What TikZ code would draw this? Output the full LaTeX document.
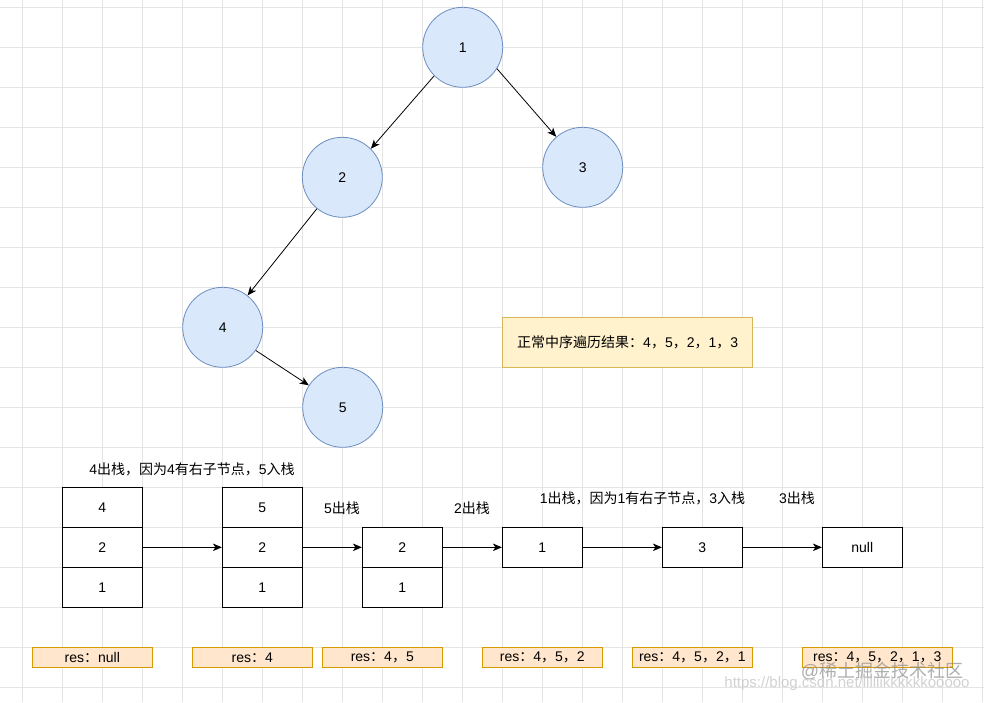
\documentclass[tikz,border=0pt]{standalone}
\usepackage{fontspec}
\setmainfont{Liberation Sans}
\newfontfamily\cjk{Noto Sans CJK SC}
\usetikzlibrary{arrows.meta}
\newcommand\zh[1]{{\cjk #1}}
\definecolor{gridc}{HTML}{E4E4E4}
\definecolor{cfill}{HTML}{DAE8FC}
\definecolor{cdraw}{HTML}{6C8EBF}
\definecolor{yfill}{HTML}{FFF2CC}
\definecolor{ydraw}{HTML}{D6B656}
\definecolor{ofill}{HTML}{FFE6CC}
\definecolor{odraw}{HTML}{D79B00}
\tikzset{
  treenode/.style={circle, draw=cdraw, fill=cfill, line width=0.8pt, minimum size=80pt, inner sep=0pt, font=\fontsize{14}{16}\selectfont},
  cell/.style={rectangle, draw=black, fill=white, line width=0.8pt, minimum width=80pt, minimum height=40pt, inner sep=0pt, font=\fontsize{14}{16}\selectfont},
  resbox/.style={rectangle, draw=odraw, fill=ofill, line width=0.8pt, minimum width=120pt, minimum height=20pt, inner sep=0pt, font=\fontsize{14}{16}\selectfont},
  notebox/.style={rectangle, draw=ydraw, fill=yfill, line width=0.8pt, minimum width=250pt, minimum height=50pt, inner sep=0pt, font=\fontsize{14}{16}\selectfont},
  lbl/.style={inner sep=0pt, font=\fontsize{14}{16}\selectfont},
  link/.style={draw=black, line width=0.8pt, -{Stealth[length=9pt,width=7.5pt,inset=2.5pt]}},
  gridline/.style={draw=gridc, line width=0.8pt}
}
\begin{document}
\begin{tikzpicture}[x=1pt, y=-1pt]
\useasboundingbox (0,0) rectangle (984,702);
\fill[white] (0,0) rectangle (984,702);
\foreach \i in {0,...,24} \draw[gridline] (22.5+40*\i,0) -- (22.5+40*\i,702);
\foreach \j in {0,...,17} \draw[gridline] (0,7.3+40*\j) -- (984,7.3+40*\j);

% tree
\node[treenode] (n1) at (462.7,47.3) {1};
\node[treenode] (n2) at (342.3,177.3) {2};
\node[treenode] (n3) at (582.7,167.3) {3};
\node[treenode] (n4) at (222.7,327.3) {4};
\node[treenode] (n5) at (342.7,407.3) {5};
\draw[link] (n1.-135) -- (n2.45.6);
\draw[link] (n1.-32.5) -- (n3.131);
\draw[link] (n2.-129) -- (n4.52);
\draw[link] (n4.-35) -- (n5.147.5);

\node[notebox] (note) at (627.7,342.3) {\zh{正常中序遍历结果：}4\zh{，}5\zh{，}2\zh{，}1\zh{，}3};

% stacks
\node[cell] (a1) at (102.3,507.3) {4};
\node[cell] (a2) at (102.3,547.3) {2};
\node[cell] (a3) at (102.3,587.3) {1};
\node[cell] (b1) at (262.3,507.3) {5};
\node[cell] (b2) at (262.3,547.3) {2};
\node[cell] (b3) at (262.3,587.3) {1};
\node[cell] (c1) at (402.3,547.3) {2};
\node[cell] (c2) at (402.3,587.3) {1};
\node[cell] (d1) at (542.3,547.3) {1};
\node[cell] (e1) at (702.3,547.3) {3};
\node[cell] (f1) at (862.3,547.3) {null};
\draw[link] (a2.east) -- (b2.west);
\draw[link] (b2.east) -- (c1.west);
\draw[link] (c1.east) -- (d1.west);
\draw[link] (d1.east) -- (e1.west);
\draw[link] (e1.east) -- (f1.west);

% labels
\node[lbl] (t1) at (192,469) {4\zh{出栈，因为}4\zh{有右子节点，}5\zh{入栈}};
\node[lbl] (t2) at (342,508) {5\zh{出栈}};
\node[lbl] (t3) at (472,508) {2\zh{出栈}};
\node[lbl] (t4) at (642.5,498.5) {1\zh{出栈，因为}1\zh{有右子节点，}3\zh{入栈}};
\node[lbl] (t5) at (797,498.5) {3\zh{出栈}};

% results
\node[resbox] (r1) at (92.3,657.3) {res\zh{：}null};
\node[resbox] (r2) at (252.3,657.3) {res\zh{：}4};
\node[resbox] (r3) at (382.3,657.3) {res\zh{：}4\zh{，}5};
\node[resbox] (r4) at (542.3,657.3) {res\zh{：}4\zh{，}5\zh{，}2};
\node[resbox] (r5) at (692.3,657.3) {res\zh{：}4\zh{，}5\zh{，}2\zh{，}1};
\node[resbox, minimum width=150pt] (r6) at (877.3,657.3) {res\zh{：}4\zh{，}5\zh{，}2\zh{，}1\zh{，}3};

% watermark
\node[inner sep=0pt, text=black!45, text opacity=0.7, font=\fontsize{18}{20}\selectfont] (w1) at (882,671) {@\zh{稀土掘金技术社区}};
\node[inner sep=0pt, text=black!25, text opacity=0.7, font=\fontsize{15}{17}\selectfont] (w2) at (847,684) {https://blog.csdn.net/lllllikkkkkkooooo};
\end{tikzpicture}
\end{document}
